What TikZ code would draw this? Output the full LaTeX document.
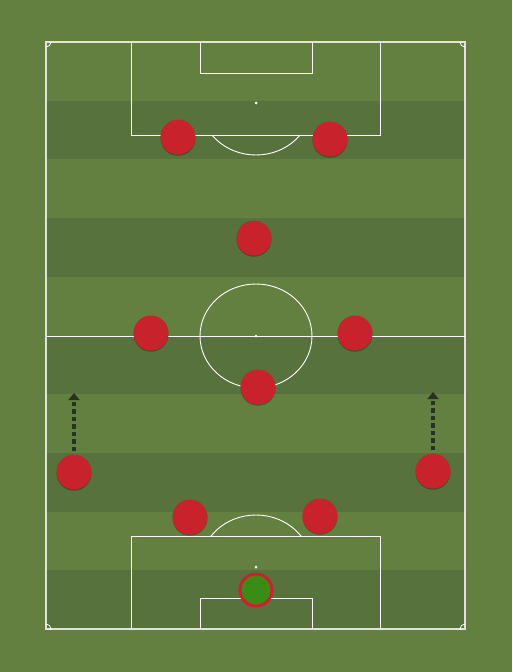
\documentclass[tikz,border=0pt]{standalone}
\usetikzlibrary{arrows.meta,shadows}
\definecolor{grasslight}{HTML}{638041}
\definecolor{grassdark}{HTML}{58723E}
\definecolor{playerred}{HTML}{C8232C}
\definecolor{gkgreen}{HTML}{3A8C17}
\definecolor{arrowdark}{HTML}{263320}
\begin{document}
\begin{tikzpicture}[x=1pt,y=-1pt,
  pline/.style={draw=white,line width=0.9pt},
  player/.style={circle,fill=playerred,minimum size=35pt,inner sep=0pt,
    drop shadow={shadow xshift=0pt,shadow yshift=-1.2pt,opacity=0.3,fill=black}},
  keeper/.style={circle,fill=gkgreen,draw=playerred,line width=3pt,minimum size=32pt,inner sep=0pt,
    drop shadow={shadow xshift=0pt,shadow yshift=-1.2pt,opacity=0.3,fill=black}},
  runarrow/.style={draw=arrowdark,line width=3.2pt,dash pattern=on 4.5pt off 3pt,
    -{Triangle[length=7pt,width=11pt]}}
]
\useasboundingbox (0,0) rectangle (512,672);
\fill[grasslight] (0,0) rectangle (512,672);
% stripes
\foreach \i in {1,3,5,7,9}{
  \fill[grassdark] (46,{42+\i*58.7}) rectangle (465,{42+(\i+1)*58.7});
}
% outline
\draw[pline,line width=1.3pt,draw opacity=0.8] (46,42) rectangle (465,629);
% halfway line and circle
\draw[pline] (46,336) -- (465,336);
\draw[pline] (256,336) ellipse[x radius=56,y radius=52];
\fill[white] (256,336) circle[radius=1.5];
% top boxes
\draw[pline] (131,42) -- (131,135) -- (380,135) -- (380,42);
\draw[pline] (200,42) -- (200,73) -- (312,73) -- (312,42);
\fill[white] (256,103) circle[radius=1.5];
\begin{scope}
\clip (100,135) rectangle (400,220);
\draw[pline] (256,103) ellipse[x radius=56,y radius=52];
\end{scope}
% bottom boxes
\draw[pline] (131,629) -- (131,536) -- (380,536) -- (380,629);
\draw[pline] (200,629) -- (200,598) -- (312,598) -- (312,629);
\fill[white] (256,567) circle[radius=1.5];
\begin{scope}
\clip (100,450) rectangle (400,536);
\draw[pline] (256,567) ellipse[x radius=56,y radius=52];
\end{scope}
% corner arcs
\begin{scope}
\clip (46,42) rectangle (465,629);
\draw[pline,line width=0.8pt] (46,42) circle[radius=5];
\draw[pline,line width=0.8pt] (465,42) circle[radius=5];
\draw[pline,line width=0.8pt] (46,629) circle[radius=5];
\draw[pline,line width=0.8pt] (465,629) circle[radius=5];
\end{scope}
% run arrow targets
\coordinate (la) at (74,393);
\coordinate (ra) at (433,392);
% players
\node[player] (p1) at (178,137) {};
\node[player] (p2) at (330,139) {};
\node[player] (p3) at (254,238) {};
\node[player] (p4) at (151,333) {};
\node[player] (p5) at (355,333) {};
\node[player] (p6) at (258,387) {};
\node[player] (p7) at (74,472) {};
\node[player] (p8) at (433,471) {};
\node[player] (p9) at (190,517) {};
\node[player] (p10) at (320,516) {};
\node[keeper] (gk) at (256,590) {};
\draw[runarrow] ([yshift=3pt]p7.north) -- (la);
\draw[runarrow] ([yshift=3pt]p8.north) -- (ra);
\end{tikzpicture}
\end{document}
